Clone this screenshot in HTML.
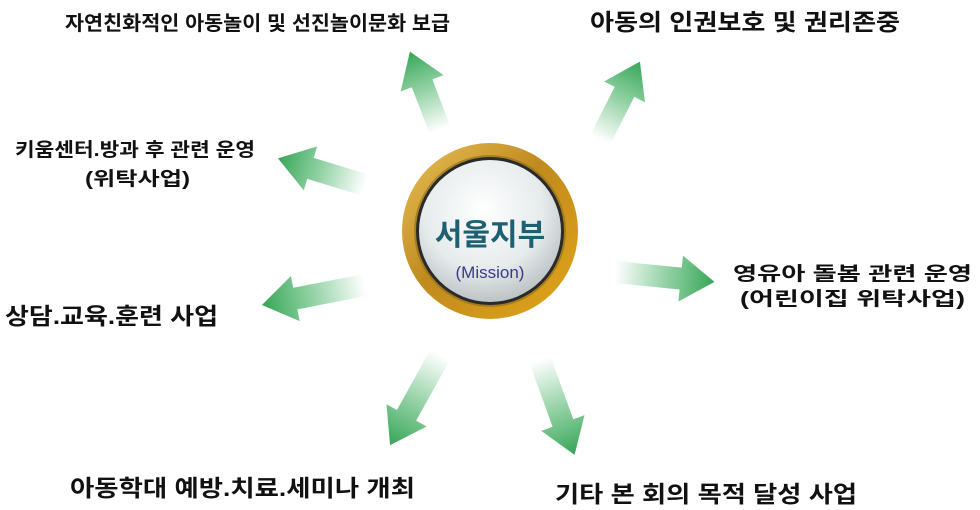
<!DOCTYPE html>
<html><head><meta charset="utf-8"><style>
html,body{margin:0;padding:0;background:#fff;width:980px;height:510px;overflow:hidden}
svg{display:block}
text{font-family:"Liberation Sans","Noto Sans CJK KR","NanumGothic",sans-serif;font-weight:bold;fill:#111}
</style></head><body>
<svg width="980" height="510" viewBox="0 0 980 510" xmlns="http://www.w3.org/2000/svg">
<defs>
<linearGradient id="ag" x1="0" y1="0" x2="1" y2="0">
<stop offset="0" stop-color="#3fae5f" stop-opacity="0"/>
<stop offset="0.5" stop-color="#3fae5f" stop-opacity="0.55"/>
<stop offset="1" stop-color="#35a556"/>
</linearGradient>
<linearGradient id="gold" x1="0" y1="0" x2="1" y2="1">
<stop offset="0" stop-color="#e8c25a"/>
<stop offset="0.45" stop-color="#c08a1e"/>
<stop offset="1" stop-color="#e2a619"/>
</linearGradient>
<radialGradient id="silver" cx="0.45" cy="0.35" r="0.7">
<stop offset="0" stop-color="#ffffff"/>
<stop offset="0.6" stop-color="#e6ebec"/>
<stop offset="1" stop-color="#b5bcbe"/>
</radialGradient>
</defs>
<g fill="url(#ag)">
<g transform="translate(440,130) rotate(-111)"><polygon points="0,-11 50,-11 50,-23 84,0 50,23 50,11 0,11"/></g>
<g transform="translate(600,140) rotate(-63)"><polygon points="0,-11 54,-11 54,-23 88,0 54,23 54,11 0,11"/></g>
<g transform="translate(365,185) rotate(-163)"><polygon points="0,-11 57,-11 57,-23 91,0 57,23 57,11 0,11"/></g>
<g transform="translate(615,272) rotate(5.7)"><polygon points="0,-11 66,-11 66,-23 100,0 66,23 66,11 0,11"/></g>
<g transform="translate(365,285) rotate(169)"><polygon points="0,-11 71,-11 71,-23 105,0 71,23 71,11 0,11"/></g>
<g transform="translate(440,355) rotate(119)"><polygon points="0,-11 69,-11 69,-23 103,0 69,23 69,11 0,11"/></g>
<g transform="translate(540,360) rotate(70)"><polygon points="0,-11 67,-11 67,-23 101,0 67,23 67,11 0,11"/></g>
</g>
<circle cx="490" cy="231" r="88" fill="url(#gold)"/>
<circle cx="490" cy="231" r="76" fill="#8a6a1a" opacity="0.6"/>
<circle cx="490" cy="231" r="74" fill="#2a2a2a"/>
<circle cx="490" cy="231" r="71" fill="url(#silver)"/>
<text x="490" y="245" text-anchor="middle" font-size="30" style="fill:#1f5f72">서울지부</text>
<text x="490" y="278" text-anchor="middle" font-size="17" style="fill:#3a3a88;font-weight:normal">(Mission)</text>

<text x="65" y="30" font-size="20" textLength="385" lengthAdjust="spacingAndGlyphs">자연친화적인 아동놀이 및 선진놀이문화 보급</text>
<text x="590" y="30" font-size="23" textLength="310" lengthAdjust="spacingAndGlyphs">아동의 인권보호 및 권리존중</text>
<text x="15" y="156" font-size="19" textLength="240" lengthAdjust="spacingAndGlyphs">키움센터.방과 후 관련 운영</text>
<text x="85" y="185" font-size="19" textLength="105" lengthAdjust="spacingAndGlyphs">(위탁사업)</text>
<text x="733" y="280" font-size="19" textLength="239" lengthAdjust="spacingAndGlyphs">영유아 돌봄 관련 운영</text>
<text x="740" y="305" font-size="19" textLength="225" lengthAdjust="spacingAndGlyphs">(어린이집 위탁사업)</text>
<text x="5" y="324" font-size="23" textLength="213" lengthAdjust="spacingAndGlyphs">상담.교육.훈련 사업</text>
<text x="70" y="496" font-size="23" textLength="345" lengthAdjust="spacingAndGlyphs">아동학대 예방.치료.세미나 개최</text>
<text x="555" y="502" font-size="23" textLength="302" lengthAdjust="spacingAndGlyphs">기타 본 회의 목적 달성 사업</text>
</svg>
</body></html>
